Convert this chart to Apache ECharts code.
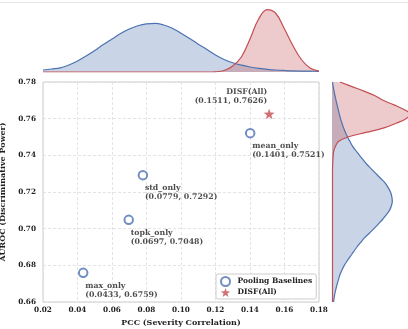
<!DOCTYPE html>
<html><head><meta charset="utf-8">
<script src="https://cdn.jsdelivr.net/npm/echarts@6/dist/echarts.min.js"></script>
<style>html,body{margin:0;padding:0;background:#fff}#c{width:408px;height:329px}</style>
</head><body><div id="c"></div>
<script>
// ---- main scatter data ----
const baseNames = ['max_only', 'topk_only', 'std_only', 'mean_only'];
const basePCC = [0.0433, 0.0697, 0.0779, 0.1401];
const baseAUROC = [0.6759, 0.7048, 0.7292, 0.7521];
const disfName = 'DISF(All)';
const disfPCC = [0.1511];
const disfAUROC = [0.7626];
// ---- axis ticks ----
const xTicks = [0.02, 0.04, 0.06, 0.08, 0.10, 0.12, 0.14, 0.16, 0.18];
const yTicks = [0.66, 0.68, 0.70, 0.72, 0.74, 0.76, 0.78];
// ---- top marginal density (x = PCC) ----
const topX = [0.020,0.025,0.030,0.035,0.040,0.045,0.050,0.055,0.060,0.065,0.070,0.075,0.080,0.085,0.090,0.095,0.100,0.105,0.110,0.115,0.120,0.125,0.130,0.135,0.140,0.145,0.150,0.155,0.160,0.165,0.170,0.175,0.180];
const topBlue = [2.0,3.0,4.2,7.0,11.0,16.0,21.5,27.5,33.0,38.5,43.0,46.3,48.2,48.6,47.0,43.8,38.8,33.5,27.8,22.5,17.0,12.5,9.2,6.8,5.0,3.6,2.7,2.0,1.5,1.1,0.9,0.8,0.7];
const topRed = [0,0,0,0,0,0,0,0,0,0,0,0,0,0,0,0,0,0,0,0,0.2,1.5,6,15,33,53,62.3,58.5,43,26,12,3.8,1.0];
// ---- right marginal density (y = AUROC) ----
const rightY = ['0.6600','0.6625','0.6650','0.6675','0.6700','0.6725','0.6750','0.6775','0.6800','0.6825','0.6850','0.6875','0.6900','0.6925','0.6950','0.6975','0.7000','0.7025','0.7050','0.7075','0.7100','0.7125','0.7150','0.7175','0.7200','0.7225','0.7250','0.7275','0.7300','0.7325','0.7350','0.7375','0.7400','0.7425','0.7450','0.7475','0.7500','0.7525','0.7550','0.7575','0.7600','0.7625','0.7650','0.7675','0.7700','0.7725','0.7750','0.7775','0.7800'];
const rightBlue = [1.5,2.2,3.0,4.1,5.3,6.6,8.0,10.0,12.3,15.3,18.5,21.7,25.0,28.7,32.5,37.3,42.0,46.3,50.5,54.2,57.5,59.4,60.3,59.8,58.5,56.0,53.0,48.5,44.0,39.5,35.0,31.2,27.5,24.0,20.5,18.0,15.5,13.5,11.5,10.0,8.5,7.3,6.2,5.1,4.0,3.0,2.0,1.2,0.6];
const rightRed = [0.5,0.5,0.5,0.5,0.5,0.5,0.5,0.5,0.5,0.5,0.5,0.5,0.5,0.5,0.5,0.5,0.5,0.5,0.5,0.5,0.5,0.5,0.5,0.5,0.5,0.5,0.5,0.5,0.5,0.5,0.7,0.9,1.2,1.8,3.5,6.5,16,34,52,64,74,78,72,62,51,43,32,20,8];

const BLUE = '#4c72b0', RED = '#c44e52';
const FONT = 'DejaVu Serif';
const STAR = 'path://M0,-10 L2.35,-3.24 L9.51,-3.09 L3.80,1.24 L5.88,8.09 L0,4 L-5.88,8.09 L-3.80,1.24 L-9.51,-3.09 L-2.35,-3.24 Z';
const txt = {fontFamily: FONT, fontWeight: 'bold', color: '#1e1e1e'};

const chart = echarts.init(document.getElementById('c'), null, {renderer: 'canvas'});
const fmt = (n, v) => n + '\n(' + v[0].toFixed(4) + ', ' + v[1].toFixed(4) + ')';
const gridBase = {containLabel: false, outerBoundsMode: 'none'};

chart.setOption({
  animation: false,
  backgroundColor: '#fff',
  graphic: [{type: 'line', shape: {x1: 0, y1: 2.5, x2: 408, y2: 2.5}, style: {stroke: '#e6e6e6', lineWidth: 1}}],
  grid: [
    Object.assign({left: 43, top: 82, width: 276, height: 220, show: true, borderColor: '#cccccc', borderWidth: 1, backgroundColor: 'transparent'}, gridBase),
    Object.assign({left: 43, top: 5, width: 276, height: 67}, gridBase),
    Object.assign({left: 332, top: 82, width: 76, height: 220}, gridBase)
  ],
  xAxis: [
    {gridIndex: 0, type: 'value', min: xTicks[0], max: xTicks[xTicks.length - 1], interval: 0.02,
     name: 'PCC (Severity Correlation)', nameLocation: 'middle', nameGap: 16,
     nameTextStyle: Object.assign({fontSize: 8}, txt),
     axisLine: {show: false}, axisTick: {show: false},
     axisLabel: Object.assign({fontSize: 7.3, margin: 5, formatter: v => v.toFixed(2)}, txt),
     splitLine: {show: true, lineStyle: {color: '#dddddd', type: [3, 2], width: 0.8}}},
    {gridIndex: 1, type: 'value', min: 0.02, max: 0.18, show: false},
    {gridIndex: 2, type: 'value', min: 0, max: 76, show: false}
  ],
  yAxis: [
    {gridIndex: 0, type: 'value', min: yTicks[0], max: yTicks[yTicks.length - 1], interval: 0.02,
     name: 'AUROC (Discriminative Power)', nameLocation: 'middle', nameGap: 26,
     nameTextStyle: Object.assign({fontSize: 8}, txt),
     axisLine: {show: false}, axisTick: {show: false},
     axisLabel: Object.assign({fontSize: 7.3, margin: 7, formatter: v => v.toFixed(2)}, txt),
     splitLine: {show: true, lineStyle: {color: '#dddddd', type: [3, 2], width: 0.8}}},
    {gridIndex: 1, type: 'value', min: 0, max: 67, show: false},
    {gridIndex: 2, type: 'category', data: rightY, boundaryGap: false, show: false}
  ],
  legend: {
    orient: 'vertical', left: 216, top: 274, padding: [2, 4], itemGap: 1,
    itemWidth: 14, itemHeight: 9, backgroundColor: '#fff', borderColor: '#cccccc', borderWidth: 1, borderRadius: 2,
    textStyle: Object.assign({fontSize: 7.5}, txt),
    data: [{name: 'Pooling Baselines', icon: 'emptyCircle'}, {name: disfName, icon: STAR}]
  },
  series: [
    {type: 'line', xAxisIndex: 1, yAxisIndex: 1, data: topX.map((x, i) => [x, topBlue[i]]), smooth: 0.4, symbol: 'none',
     lineStyle: {color: BLUE, width: 1.2}, areaStyle: {color: BLUE, opacity: 0.3}, silent: true},
    {type: 'line', xAxisIndex: 1, yAxisIndex: 1, data: topX.map((x, i) => [x, topRed[i]]), smooth: 0.4, symbol: 'none',
     lineStyle: {color: RED, width: 1.2}, areaStyle: {color: RED, opacity: 0.3}, silent: true},
    {type: 'line', xAxisIndex: 2, yAxisIndex: 2, data: rightBlue, smooth: 0.4, symbol: 'none',
     lineStyle: {color: BLUE, width: 1.2}, areaStyle: {color: BLUE, opacity: 0.3}, silent: true},
    {type: 'line', xAxisIndex: 2, yAxisIndex: 2, data: rightRed, smooth: 0.4, symbol: 'none',
     lineStyle: {color: RED, width: 1.2}, areaStyle: {color: RED, opacity: 0.3}, silent: true},
    {name: 'Pooling Baselines', type: 'scatter', xAxisIndex: 0, yAxisIndex: 0,
     data: baseNames.map((n, i) => ({name: n, value: [basePCC[i], baseAUROC[i]]})),
     symbol: 'emptyCircle', symbolSize: 8.5, itemStyle: {color: BLUE, borderWidth: 1.9},
     label: Object.assign({show: true, position: 'inside', align: 'left', verticalAlign: 'top', offset: [2, 8.5],
       fontSize: 7.8, lineHeight: 9, formatter: p => fmt(p.name, p.value)}, txt)},
    {name: disfName, type: 'scatter', xAxisIndex: 0, yAxisIndex: 0,
     data: disfPCC.map((x, i) => ({name: disfName, value: [x, disfAUROC[i]]})),
     symbol: STAR, symbolSize: [11, 10.5], itemStyle: {color: RED},
     label: Object.assign({show: true, position: 'inside', align: 'right', verticalAlign: 'bottom', offset: [-2, -8.5],
       fontSize: 7.8, lineHeight: 9, formatter: p => fmt(p.name, p.value)}, txt)}
  ]
});
</script></body></html>
